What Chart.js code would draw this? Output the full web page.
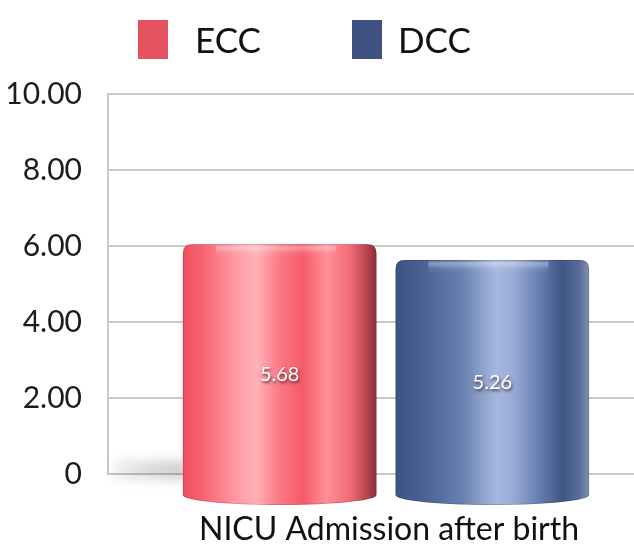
<!DOCTYPE html>
<html>
<head>
<meta charset="utf-8">
<script src="https://cdn.jsdelivr.net/npm/chart.js@4/dist/chart.umd.min.js"></script>
<style>
  html, body { margin: 0; padding: 0; background: #fff; width: 634px; height: 550px; overflow: hidden; }
  #wrap { position: relative; width: 634px; height: 550px; overflow: hidden; }
  #c { position: absolute; left: 0; top: 0; }
  #legend { position: absolute; left: 0; top: 0; width: 634px; height: 80px; font-family: Lato, "Open Sans", sans-serif; }
  .item { position: absolute; top: 20px; height: 39px; }
  .sw { position: absolute; left: 0; top: 0; width: 30px; height: 39px; }
  .tx { position: absolute; top: 0; line-height: 39px; font-size: 35px; color: #111; white-space: nowrap; }
</style>
</head>
<body>
<div id="wrap">
  <canvas id="c" width="664" height="550"></canvas>
  <div id="legend"></div>
</div>
<script>
// Data
const categories = ['NICU Admission after birth'];
const seriesNames = ['ECC', 'DCC'];
const eccValues = [5.68];
const dccValues = [5.26];
const yTicks = [0, 2, 4, 6, 8, 10];

// Look of each series: flat colour for the key, gradient stops for the cylinders
const seriesStyles = [
  {
    flat: '#e4535f',
    stops: [[0, '#ee4f5d'], [0.1, '#f8636f'], [0.28, '#ff9aa3'], [0.38, '#ffb1b7'], [0.5, '#fb7884'],
            [0.62, '#f65a68'], [0.74, '#ff8d97'], [0.86, '#f26d78'], [0.95, '#b8434d'], [1, '#8a3139']]
  },
  {
    flat: '#3e5181',
    stops: [[0, '#3c5384'], [0.15, '#4a6394'], [0.35, '#6a82b2'], [0.52, '#a6b8de'], [0.6, '#9badd6'],
            [0.72, '#6e86b6'], [0.86, '#3f5686'], [0.95, '#5a6d98'], [1, '#8391b3']]
  }
];

const CAP = 14;   // height of the rounded top rim above the value
const FOOT = 32;  // depth of the cylinder below the floor line

function cylinderPath(ctx, l, r, top, bottom) {
  const rc = 9, ry = 10, x = (l + r) / 2, w = r - l;
  ctx.beginPath();
  ctx.moveTo(l, top + rc);
  ctx.quadraticCurveTo(l, top, l + rc, top);
  ctx.lineTo(r - rc, top);
  ctx.quadraticCurveTo(r, top, r, top + rc);
  ctx.lineTo(r, bottom - ry);
  ctx.ellipse(x, bottom - ry, w / 2, ry, 0, 0, Math.PI);
  ctx.closePath();
}

const cylinderPlugin = {
  id: 'cylinders',
  beforeDatasetsDraw(chart) {
    // soft floor shadow between the axis and the first cylinder
    const ctx = chart.ctx;
    const meta = chart.getDatasetMeta(0);
    if (!meta.data.length) return;
    const bar = meta.data[0].getProps(['x', 'base', 'width'], true);
    const left = chart.chartArea.left;
    ctx.save();
    ctx.filter = 'blur(6px)';
    const g = ctx.createLinearGradient(left, 0, bar.x - bar.width / 2, 0);
    g.addColorStop(0, 'rgba(0,0,0,0.05)');
    g.addColorStop(0.6, 'rgba(0,0,0,0.16)');
    g.addColorStop(1, 'rgba(0,0,0,0.2)');
    ctx.fillStyle = g;
    ctx.fillRect(left + 6, bar.base - 12, bar.x - bar.width / 2 - left, 18);
    ctx.restore();
  },
  beforeDatasetDraw(chart, args) {
    const ctx = chart.ctx;
    const style = seriesStyles[args.index];
    args.meta.data.forEach(el => {
      const {x, y, base, width} = el.getProps(['x', 'y', 'base', 'width'], true);
      const l = x - width / 2, r = x + width / 2;
      const top = y - CAP, bottom = base + FOOT;
      const g = ctx.createLinearGradient(l, 0, r, 0);
      style.stops.forEach(([o, c]) => g.addColorStop(o, c));
      ctx.save();
      cylinderPath(ctx, l, r, top, bottom);
      ctx.fillStyle = g;
      ctx.fill();
      // rim highlight along the top edge
      ctx.clip();
      const rim = ctx.createLinearGradient(0, top, 0, top + 14);
      rim.addColorStop(0, 'rgba(255,255,255,0.0)');
      rim.addColorStop(0.25, 'rgba(255,255,255,0.35)');
      rim.addColorStop(0.6, 'rgba(255,255,255,0.08)');
      rim.addColorStop(1, 'rgba(255,255,255,0)');
      ctx.fillStyle = rim;
      ctx.fillRect(l + width * 0.17, top, width * 0.62, 14);
      ctx.strokeStyle = 'rgba(0,0,0,0.18)';
      ctx.lineWidth = 1.5;
      cylinderPath(ctx, l, r, top, bottom);
      ctx.stroke();
      ctx.restore();
    });
    return false;
  },
  afterDatasetsDraw(chart) {
    // value labels, centred on each cylinder
    const ctx = chart.ctx;
    chart.data.datasets.forEach((ds, i) => {
      chart.getDatasetMeta(i).data.forEach((el, j) => {
        const {x, y, base} = el.getProps(['x', 'y', 'base'], true);
        const cy = ((y - CAP) + (base + FOOT)) / 2;
        ctx.save();
        ctx.font = '20px Lato, "Open Sans", sans-serif';
        ctx.textAlign = 'center';
        ctx.textBaseline = 'middle';
        ctx.shadowColor = 'rgba(40,20,30,0.75)';
        ctx.shadowBlur = 3;
        ctx.shadowOffsetX = 1;
        ctx.shadowOffsetY = 2;
        ctx.fillStyle = '#ffffff';
        ctx.fillText(ds.data[j].toFixed(2), x, cy);
        ctx.restore();
      });
    });
  }
};

const seriesValues = [eccValues, dccValues];

const chart = new Chart(document.getElementById('c'), {
  type: 'bar',
  data: {
    labels: categories,
    datasets: seriesNames.map((name, i) => ({
      label: name,
      data: seriesValues[i],
      backgroundColor: seriesStyles[i].flat,
      categoryPercentage: 0.765,
      barPercentage: 0.91
    }))
  },
  options: {
    responsive: false,
    animation: false,
    events: [],
    layout: { padding: { top: 94, bottom: 1.6, left: 0, right: 0 } },
    plugins: {
      legend: { display: false },
      tooltip: { enabled: false }
    },
    scales: {
      x: {
        afterFit: s => { s.height = 74.4; },
        grid: { display: false, drawTicks: false },
        border: { display: false },
        ticks: {
          color: '#111',
          padding: 36,
          labelOffset: 3,
          maxRotation: 0,
          font: { family: 'Lato, "Open Sans", sans-serif', size: 32, lineHeight: 1.2 }
        }
      },
      y: {
        min: 0,
        max: 10,
        afterBuildTicks: s => { s.ticks = yTicks.map(v => ({ value: v })); },
        afterFit: s => { s.width = 108; },
        grid: { color: '#c9c9c9', lineWidth: 2, drawTicks: false },
        border: { color: '#c9c9c9', width: 2 },
        ticks: {
          color: '#1c1c1c',
          padding: 26,
          font: { family: 'Lato, "Open Sans", sans-serif', size: 30 },
          callback: v => v === 0 ? '0' : v.toFixed(2)
        }
      }
    }
  },
  plugins: [cylinderPlugin]
});

// Key built from the chart's own datasets
const legend = document.getElementById('legend');
const keyPos = [{ box: 138, text: 195 }, { box: 352, text: 398 }];
chart.data.datasets.forEach((ds, i) => {
  const item = document.createElement('div');
  item.className = 'item';
  item.style.left = keyPos[i].box + 'px';
  const sw = document.createElement('div');
  sw.className = 'sw';
  sw.style.background = ds.backgroundColor;
  const tx = document.createElement('div');
  tx.className = 'tx';
  tx.style.left = (keyPos[i].text - keyPos[i].box) + 'px';
  tx.textContent = ds.label;
  item.appendChild(sw);
  item.appendChild(tx);
  legend.appendChild(item);
});
</script>
</body>
</html>
